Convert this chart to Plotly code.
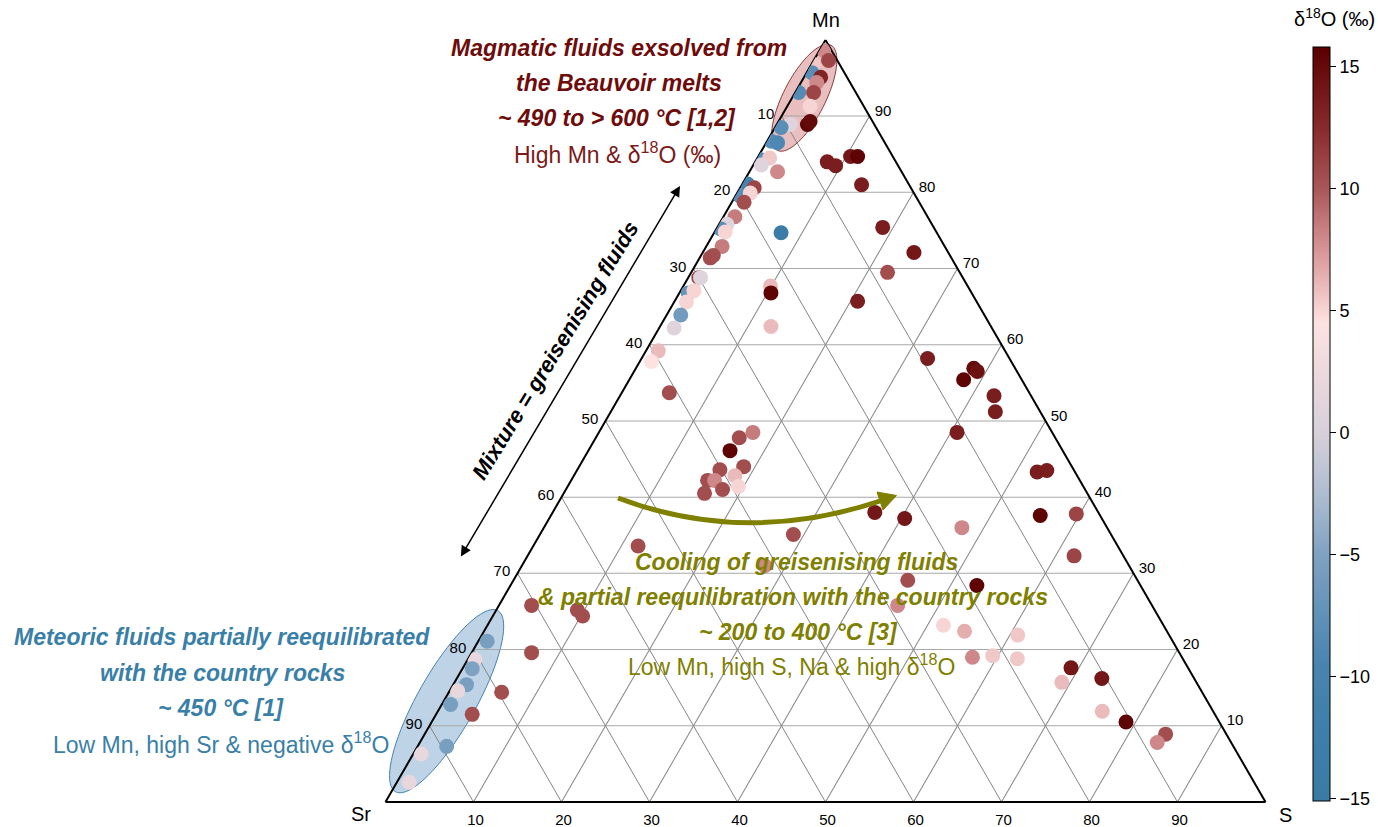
import math
import plotly.graph_objects as go

W, H = 1378, 827

# ---------------- data (Mn, S, Sr in %, d18O in permil) ----------------
mn = [98.6, 97.3, 96.8, 95.7, 95.1, 94.4, 93.1, 93.1, 91.3, 88.9,
      89.3, 88.9, 88.5, 86.7, 86.5, 84.3, 84.5, 83.6, 82.7, 81.1,
      80.6, 79.6, 79.9, 78.7, 76.8, 75.8, 75.2, 74.8, 72.9, 71.7,
      71.4, 68.8, 68.8, 66.8, 67.1, 65.6, 63.9, 62.2, 59.2, 57.8,
      53.7, 74.7, 67.7, 66.8, 62.4, 84.0, 83.5, 84.7, 84.7, 81.0,
      75.4, 72.1, 69.5, 65.7, 58.2, 55.4, 56.9, 56.5, 53.3, 51.2,
      48.5, 43.3, 43.5, 37.6, 37.8, 32.3, 48.5, 47.8, 46.1, 44.0,
      43.6, 42.8, 42.2, 42.2, 41.0, 41.4, 40.5, 38.0, 37.2, 36.0,
      35.1, 33.6, 31.0, 29.1, 28.4, 25.8, 25.2, 24.4, 23.2, 22.4,
      21.9, 19.0, 19.2, 18.8, 17.6, 16.2, 15.7, 11.9, 10.5, 8.9,
      7.8, 25.8, 19.6, 14.4, 11.5, 21.1, 18.7, 17.5, 15.4, 14.6,
      12.8, 7.3, 6.3, 2.6]
s = [0.5, 1.7, 0.2, 0.6, 1.9, 1.8, 2.1, 0.4, 2.6, 3.5,
     3.6, 1.6, 0.7, 0.5, 1.3, 0.4, 1.4, 0.9, 3.2, 0.6,
     1.6, 0.4, 1.5, 1.4, 1.3, 0.9, 0.5, 1.2, 1.8, 1.4,
     1.2, 1.2, 1.4, 1.0, 1.5, 1.4, 1.6, 1.7, 1.4, 1.3,
     5.4, 7.6, 9.9, 10.4, 12.6, 8.2, 9.4, 10.5, 11.3, 13.6,
     18.8, 24.0, 22.3, 20.8, 32.5, 38.0, 38.4, 39.0, 42.5, 43.7,
     40.7, 52.4, 53.4, 55.6, 59.6, 62.1, 17.5, 16.3, 16.1, 18.7,
     16.2, 18.3, 15.5, 16.3, 17.8, 19.4, 16.0, 36.6, 40.4, 47.5,
     28.8, 11.9, 27.6, 44.8, 53.0, 45.3, 9.2, 10.2, 51.8, 54.6,
     60.9, 57.2, 59.4, 62.4, 69.1, 73.3, 69.0, 75.5, 78.9, 84.2,
     83.8, 3.7, 6.8, 6.0, 4.1, 1.0, 0.8, 1.1, 1.5, 0.9,
     1.0, 3.3, 0.9, 1.4]
sr = [0.9, 1.0, 3.0, 3.7, 3.0, 3.8, 4.8, 6.5, 6.1, 7.6,
      7.1, 9.5, 10.8, 12.8, 12.2, 15.3, 14.1, 15.5, 14.1, 18.3,
      17.8, 20.0, 18.6, 19.9, 21.9, 23.3, 24.3, 24.0, 25.3, 26.9,
      27.4, 30.0, 29.8, 32.2, 31.4, 33.0, 34.5, 36.1, 39.4, 40.9,
      40.9, 17.7, 22.4, 22.8, 25.0, 7.8, 7.1, 4.8, 4.0, 5.4,
      5.8, 3.9, 8.2, 13.5, 9.3, 6.6, 4.7, 4.5, 4.2, 5.1,
      10.8, 4.3, 3.1, 6.8, 2.6, 5.6, 34.0, 35.9, 37.8, 37.3,
      40.2, 38.9, 42.3, 41.5, 41.2, 39.2, 43.5, 25.4, 22.4, 16.5,
      36.1, 54.5, 41.4, 26.1, 18.6, 28.9, 65.6, 65.4, 25.0, 23.0,
      17.2, 23.8, 21.4, 18.8, 13.3, 10.5, 15.3, 12.6, 10.6, 6.9,
      8.4, 70.5, 73.6, 79.6, 84.4, 77.9, 80.5, 81.4, 83.1, 84.5,
      86.2, 89.4, 92.8, 96.0]
d18o = [8, 11, 5.5, -8, 13, 8, 11, -8.5, 5, 15.5,
        15, 1, -8, -8, -9, -8, 5.5, 1, 8, -10,
        11, -8, 5, 10.5, 8.5, 1, -8, 5, 8.5, 10.5,
        10.5, 11, 1, -7, 5, 5, -6, 1, 6, 4.5,
        10.5, -13.5, 6, 15.5, 6, 13.5, 13.5, 14, 15.5, 13.5,
        13.5, 14, 10.5, 13.5, 13.5, 15.5, 15, 14.5, 13.5, 13.5,
        13.5, 13.5, 13.5, 15.5, 11, 11, 8.5, 10.5, 15.5, 10.5,
        10.5, 6, 10.5, 8, 10.5, 5, 10.5, 14, 14, 8,
        10.5, 10.5, 8, 10.5, 15.5, 8, 10.5, 10.5, 5, 6.5,
        5.5, 8, 5.5, 5.5, 14, 14, 6, 6, 15.5, 10.5,
        8, 10.5, 10.5, 10.5, 10.5, -5.5, 2, -5, -5.5, 2,
        -5.5, -5.5, 2, 2]

tick_values = [10, 20, 30, 40, 50, 60, 70, 80, 90]
cbar_ticks = [-15, -10, -5, 0, 5, 10, 15]
c_min, c_max = -15.07, 15.8

# colour ramp stops (value, colour)
ramp_values = [-15.07, -12.5, -9.5, -5, -2.5, 0, 2.5, 4.5, 7.5, 10, 12.5, 15.8]
ramp_colors = ["#3a7ba6", "#3e7eaa", "#4884b0", "#7ea2c1", "#aebdd0", "#d7d0da",
               "#ecd9de", "#fde2e1", "#d89495", "#a85758", "#882a2c", "#5a0000"]
colorscale = [[(v - c_min) / (c_max - c_min), c] for v, c in zip(ramp_values, ramp_colors)]
colorscale[0][0] = 0.0
colorscale[-1][0] = 1.0

# ---------------- geometry helpers ----------------
TRI_LEFT, TRI_RIGHT, TRI_BOTTOM = 385.5, 1265.5, 802.0
SIDE = TRI_RIGHT - TRI_LEFT
TRI_TOP = TRI_BOTTOM - SIDE * math.sqrt(3) / 2


def px(x, y):
    return x / W, 1 - y / H


def tern_to_px(m, sv):
    return TRI_LEFT + SIDE * (sv + m / 2) / 100, TRI_BOTTOM - SIDE * math.sqrt(3) / 2 * m / 100


def ellipse_path(m, sv, a, b, ang, n=80):
    cx, cy = tern_to_px(m, sv)
    th = math.radians(ang)
    pts = []
    for i in range(n):
        t = 2 * math.pi * i / n
        x = cx + a * math.cos(t) * math.cos(th) - b * math.sin(t) * math.sin(th)
        y = cy - (a * math.cos(t) * math.sin(th) + b * math.sin(t) * math.cos(th))
        pts.append(px(x, y))
    return "M " + " L ".join(f"{p[0]:.5f},{p[1]:.5f}" for p in pts) + " Z"


FONT = "Liberation Sans, Arial, sans-serif"

fig = go.Figure()
fig.add_trace(go.Scatterternary(
    a=mn, b=sr, c=s, mode="markers",
    marker=dict(size=15, color=d18o, colorscale=colorscale, cmin=c_min, cmax=c_max,
                line=dict(width=0),
                colorbar=dict(x=1312.5 / W, xanchor="left", y=1 - 423.7 / H, yanchor="middle",
                              len=754, lenmode="pixels", thickness=17, xpad=0, ypad=0,
                              outlinewidth=1, outlinecolor="black",
                              ticks="outside", ticklen=6, tickwidth=1, tickcolor="black",
                              tickvals=cbar_ticks, tickfont=dict(size=18, color="black", family=FONT))),
    showlegend=False, hoverinfo="skip"))


def axis(text_fn, gridcolor, gridwidth):
    return dict(title=dict(text=""),
                tickvals=tick_values, ticktext=[text_fn(v) for v in tick_values],
                tickfont=dict(size=15, color="black", family=FONT),
                ticks="outside", ticklen=4, tickcolor="rgba(0,0,0,0)",
                showgrid=True, gridcolor=gridcolor, gridwidth=gridwidth,
                showline=True, linecolor="black", linewidth=2, layer="below traces", min=0)


x0, y0 = px(TRI_LEFT, TRI_BOTTOM)
x1, y1 = px(TRI_RIGHT, TRI_TOP)

shapes = [
    dict(type="path", path=ellipse_path(92.4, 1.38, 59, 21, 63), xref="paper", yref="paper",
         fillcolor="rgba(205,110,110,0.45)", line=dict(color="#8b3a3a", width=1), layer="below"),
    dict(type="path", path=ellipse_path(13.23, 0.33, 104, 29, 60.5), xref="paper", yref="paper",
         fillcolor="rgba(70,130,180,0.35)", line=dict(color="#4682b4", width=1), layer="below"),
]

# olive curved arrow
p0, p1, p2 = px(618, 498), px(745, 546), px(880, 501)
shapes.append(dict(type="path", xref="paper", yref="paper",
                   path=f"M {p0[0]},{p0[1]} Q {p1[0]},{p1[1]} {p2[0]},{p2[1]}",
                   line=dict(color="#7f7f00", width=5)))
h1, h2, h3 = px(896.5, 495.5), px(883, 510), px(877, 492)
shapes.append(dict(type="path", xref="paper", yref="paper",
                   path=f"M {h1[0]},{h1[1]} L {h2[0]},{h2[1]} L {h3[0]},{h3[1]} Z",
                   fillcolor="#7f7f00", line=dict(color="#7f7f00", width=1)))

annotations = []


def note(text, x, y, color, size=23, angle=0):
    ax_, ay_ = px(x, y)
    annotations.append(dict(text=text, x=ax_, y=ay_, xref="paper", yref="paper", showarrow=False,
                            xanchor="center", yanchor="middle", textangle=angle,
                            font=dict(size=size, color=color, family=FONT)))


RED, BLUE, OLIVE = "#6e0b0b", "#3a7fa8", "#7f7f00"
note("<b><i>Magmatic fluids exsolved from</i></b>", 619, 48, RED)
note("<b><i>the Beauvoir melts</i></b>", 619, 83, RED)
note("<b><i>~ 490 to &gt; 600 °C [1,2]</i></b>", 617, 118, RED)
note("High Mn &amp; δ<sup>18</sup>O (‰)", 617, 153, "#7b1a1a")

note("<b><i>Meteoric fluids partially reequilibrated</i></b>", 222, 637, BLUE)
note("<b><i>with the country rocks</i></b>", 222, 673, BLUE)
note("<b><i>~ 450 °C [1]</i></b>", 221, 708, BLUE)
note("Low Mn, high Sr &amp; negative δ<sup>18</sup>O", 221, 743, BLUE)

note("<b><i>Cooling of greisenising fluids</i></b>", 796, 562, OLIVE)
note("<b><i>&amp; partial reequilibration with the country rocks</i></b>", 793, 597, OLIVE)
note("<b><i>~ 200 to 400 °C [3]</i></b>", 798, 632, OLIVE)
note("Low Mn, high S, Na &amp; high δ<sup>18</sup>O", 791, 665, OLIVE)

note("<b><i>Mixture = greisenising fluids</i></b>", 555, 350, "black", size=22, angle=-58.5)
note("δ<sup>18</sup>O (‰)", 1334, 18, "black", size=20)

# vertex (component) labels
note("Mn", 826, 20, "black", size=20)
note("Sr", 361, 814, "black", size=20)
note("S", 1285, 815, "black", size=20)

# double-headed black arrow
hx, hy = px(680, 186)
annotations.append(dict(x=hx, y=hy, xref="paper", yref="paper", text="", showarrow=True,
                        ax=460 - 680, ay=558 - 186, arrowside="end+start", arrowhead=2,
                        startarrowhead=2, arrowsize=1.4, startarrowsize=1.4, arrowwidth=1.5,
                        arrowcolor="black"))

fig.update_layout(
    width=W, height=H, margin=dict(l=0, r=0, t=0, b=0, autoexpand=False),
    paper_bgcolor="white", plot_bgcolor="white",
    font=dict(family=FONT, color="black"),
    ternary=dict(sum=100, domain=dict(x=[x0, x1], y=[y0, y1]), bgcolor="rgba(0,0,0,0)",
                 aaxis=axis(lambda v: str(100 - v), "#a8a8a8", 1.2),
                 baxis=axis(lambda v: str(100 - v), "#858585", 0.8),
                 caxis=axis(lambda v: str(100 - v), "#858585", 0.8)),
    shapes=shapes, annotations=annotations,
)

fig.write_html("out.html", config={"displayModeBar": False},
               post_script="document.body.style.margin='0';document.body.style.overflow='hidden';")
